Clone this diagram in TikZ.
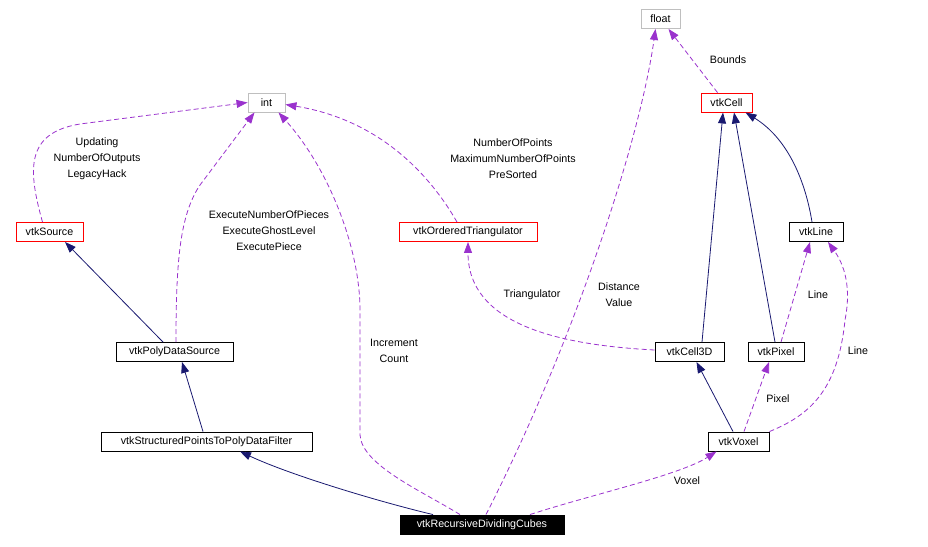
\documentclass[tikz,border=0pt]{standalone}
\usepackage{fontspec}
\setmainfont{Liberation Sans}
\usetikzlibrary{arrows.meta}

\definecolor{usecol}{HTML}{9A32CD}
\definecolor{inhcol}{HTML}{191970}
\definecolor{boxgray}{HTML}{BFBFBF}

\begin{document}
\begin{tikzpicture}[x=1pt,y=-1pt,
  every node/.style={text centered,font=\fontsize{10.7}{16}\selectfont},
  cls/.style={draw=black,fill=white,line width=0.9pt,minimum height=19pt,inner xsep=3pt,inner ysep=0pt},
  lbl/.style={align=center,inner sep=0pt},
  inh/.style={draw=inhcol,line width=0.8pt,-{Triangle[length=11pt,width=8pt]}},
  use/.style={draw=usecol,line width=0.8pt,dash pattern=on 5pt off 3pt,-{Triangle[length=11pt,width=8pt]}}]

\useasboundingbox (0,0) rectangle (928,546);

%%% classes
\node [cls,draw=boxgray,minimum width=39pt] (flt) at (660.5,19) {float};
\node [cls,draw=boxgray,minimum width=37pt] (int) at (266.5,102.5) {int};
\node [cls,draw=red,minimum width=51pt] (cell) at (726.5,102.5) {vtkCell};
\node [cls,draw=red,minimum width=67pt] (src) at (49.5,232) {vtkSource};
\node [cls,draw=red,minimum width=138pt] (otri) at (468,232) {vtkOrderedTriangulator};
\node [cls,minimum width=54pt] (line) at (816,232) {vtkLine};
\node [cls,minimum width=117pt] (pds) at (174.5,352) {vtkPolyDataSource};
\node [cls,minimum width=69pt] (c3d) at (689.5,352) {vtkCell3D};
\node [cls,minimum width=56pt] (pix) at (776,352) {vtkPixel};
\node [cls,minimum width=211pt] (spf) at (206.5,441.5) {vtkStructuredPointsToPolyDataFilter};
\node [cls,minimum width=61pt] (vox) at (738.5,441.5) {vtkVoxel};
\node [cls,fill=black,text=white,minimum width=164pt] (rdc) at (482,524.5) {vtkRecursiveDividingCubes};

%%% inheritance
\draw [inh] ([xshift=-11.5pt]pds.north) -- ([xshift=15.5pt]src.south);
\draw [inh] ([xshift=-3.5pt]spf.north) -- ([xshift=7.5pt]pds.south);
\draw [inh] ([xshift=-49pt]rdc.north) .. controls (380,502) and (290,475) .. ([xshift=33.5pt]spf.south);
\draw [inh] ([xshift=12.5pt]c3d.north) -- ([xshift=-3.5pt]cell.south);
\draw [inh] ([xshift=-1pt]pix.north) -- ([xshift=7.5pt]cell.south);
\draw [inh] ([xshift=-4pt]line.north) .. controls (806,185) and (790,140) .. ([xshift=19pt]cell.south);
\draw [inh] ([xshift=-5.5pt]vox.north) -- ([xshift=7pt]c3d.south);

%%% members
\draw [use] ([xshift=-7pt]src.north) .. controls (28,170) and (25,133) .. (80,124) -- (int.west);
\draw [use] ([xshift=1.5pt]pds.north) .. controls (176,260) and (180,215) .. (200,185) -- ([xshift=-12pt]int.south);
\draw [use] ([xshift=-22pt]rdc.north) .. controls (420,490) and (362,465) .. (360,435) -- (360,310)
  .. controls (360,250) and (330,170) .. ([xshift=12pt]int.south);
\draw [use] ([xshift=-11pt]otri.north) .. controls (430,175) and (380,120) .. ([yshift=-2pt]int.east);
\draw [use] ([xshift=4pt]rdc.north) .. controls (575,340) and (640,140) .. ([xshift=-5pt]flt.south);
\draw [use] ([xshift=-9pt]cell.north) -- ([xshift=8pt]flt.south);
\draw [use] ([yshift=2pt]c3d.west) .. controls (560,345) and (468,325) .. (otri.south);
\draw [use] ([xshift=5pt]pix.north) -- ([xshift=-6pt]line.south);
\draw [use] (vox.north east) .. controls (810,415) and (838,390) .. (845,320)
  .. controls (850,295) and (848,270) .. ([xshift=12pt]line.south);
\draw [use] ([xshift=5.5pt]vox.north) -- ([xshift=-7pt]pix.south);
\draw [use] ([xshift=48pt]rdc.north) .. controls (590,495) and (680,475) .. ([xshift=-22pt]vox.south);

%%% labels
\node [lbl] (lbsrc) at (97,159) {Updating\\NumberOfOutputs\\LegacyHack};
\node [lbl] (lbpds) at (269,231) {ExecuteNumberOfPieces\\ExecuteGhostLevel\\ExecutePiece};
\node [lbl] (lbotri) at (513,159) {NumberOfPoints\\MaximumNumberOfPoints\\PreSorted};
\node [lbl] (lbrdc) at (394,351) {Increment\\Count};
\node [lbl] (lbflt) at (619,295) {Distance\\Value};
\node [lbl] (lbcell) at (728,60) {Bounds};
\node [lbl] (lbtri) at (532,295) {Triangulator};
\node [lbl] (lbline) at (818,295) {Line};
\node [lbl] (lbline2) at (858,351) {Line};
\node [lbl] (lbpix) at (778,399) {Pixel};
\node [lbl] (lbvox) at (687,481) {Voxel};

\end{tikzpicture}
\end{document}
